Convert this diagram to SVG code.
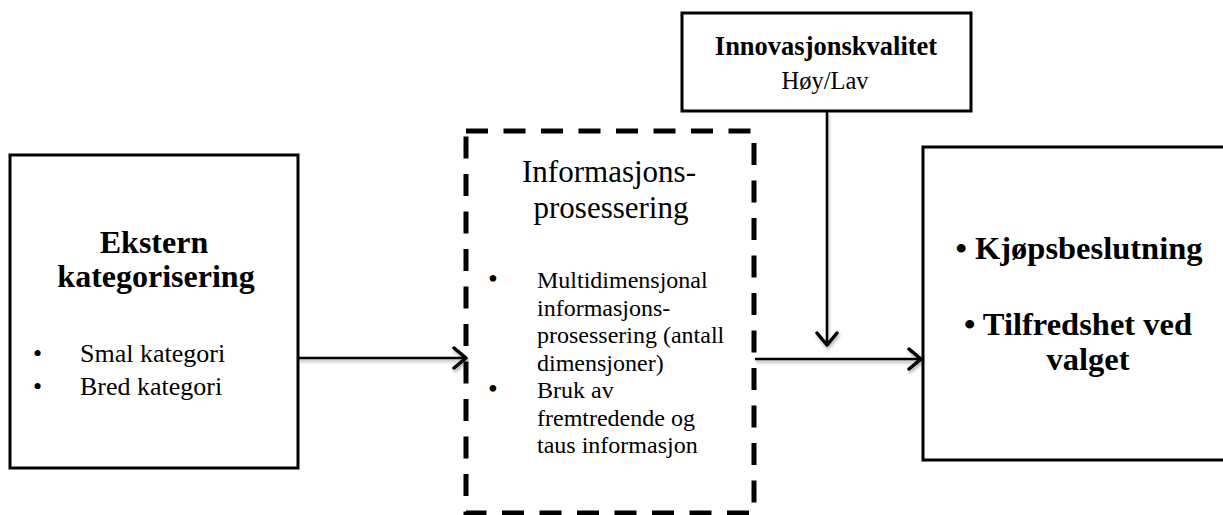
<svg xmlns="http://www.w3.org/2000/svg" width="1223" height="515" viewBox="0 0 1223 515">
<style>
.box{fill:#fff;stroke:#000;stroke-width:3}
.dash{fill:none;stroke:#000;stroke-width:5;stroke-dasharray:22 15.5}
.t{font-family:"Liberation Serif","Times New Roman",serif;fill:#000}
.b{font-weight:bold}
.line{stroke:#000;stroke-width:2.5;fill:none}
.rule{stroke:#000;stroke-width:3}
</style>
<defs>
<filter id="sh" x="-10%" y="-50%" width="120%" height="200%">
<feDropShadow dx="1" dy="2.5" stdDeviation="1.5" flood-color="#000" flood-opacity="0.3"/>
</filter>
<marker id="ah" markerUnits="userSpaceOnUse" markerWidth="20" markerHeight="26" refX="15" refY="12" orient="auto">
<path d="M3,2 L15,12 L3,22" fill="none" stroke="#000" stroke-width="3.5" stroke-linecap="round" stroke-linejoin="round"/>
</marker>
</defs>
<g id="node-ekstern">
<rect class="box" x="10" y="155" width="288" height="313"/>
<text class="t b" x="154" y="253" font-size="32" text-anchor="middle">Ekstern</text>
<text class="t b" x="156" y="287" font-size="32" text-anchor="middle">kategorisering</text>
<line class="rule" x1="35" y1="304" x2="275" y2="304" filter="url(#sh)"/>
<text class="t" x="33" y="362" font-size="26">•</text>
<text class="t" x="80" y="362" font-size="26">Smal kategori</text>
<text class="t" x="33" y="395" font-size="26">•</text>
<text class="t" x="80" y="395" font-size="26">Bred kategori</text>
</g>
<g id="node-info">
<rect class="dash" x="466" y="131" width="288" height="382"/>
<text class="t" x="609" y="182" font-size="31" text-anchor="middle">Informasjons-</text>
<text class="t" x="611" y="218" font-size="31" text-anchor="middle">prosessering</text>
<line class="rule" x1="491" y1="228" x2="731" y2="228" filter="url(#sh)"/>
<g class="t" font-size="24">
<text x="488" y="288" font-size="28">•</text>
<text x="537" y="288">Multidimensjonal</text>
<text x="537" y="315.5">informasjons-</text>
<text x="537" y="343">prosessering (antall</text>
<text x="537" y="370.5">dimensjoner)</text>
<text x="488" y="398" font-size="28">•</text>
<text x="537" y="398">Bruk av</text>
<text x="537" y="425.5">fremtredende og</text>
<text x="537" y="453">taus informasjon</text>
</g>
</g>
<g id="node-innovasjon">
<rect class="box" x="682" y="13" width="289" height="98"/>
<text class="t b" x="826" y="55" font-size="26.5" text-anchor="middle">Innovasjonskvalitet</text>
<text class="t" x="825" y="89" font-size="24.5" text-anchor="middle">Høy/Lav</text>
</g>
<g id="node-utfall">
<rect class="box" x="923" y="147" width="310" height="313"/>
<text class="t b" x="1079" y="259" font-size="32.5" text-anchor="middle">• Kjøpsbeslutning</text>
<text class="t b" x="1078" y="335" font-size="32.5" text-anchor="middle">• Tilfredshet ved</text>
<text class="t b" x="1088" y="370" font-size="32.5" text-anchor="middle">valget</text>
</g>
<g id="connectors" filter="url(#sh)">
<line class="line" x1="299" y1="358" x2="466" y2="358" marker-end="url(#ah)"/>
<line class="line" x1="755" y1="359" x2="921" y2="359" marker-end="url(#ah)"/>
<line class="line" x1="827" y1="112" x2="827" y2="345" marker-end="url(#ah)"/>
</g>
</svg>
